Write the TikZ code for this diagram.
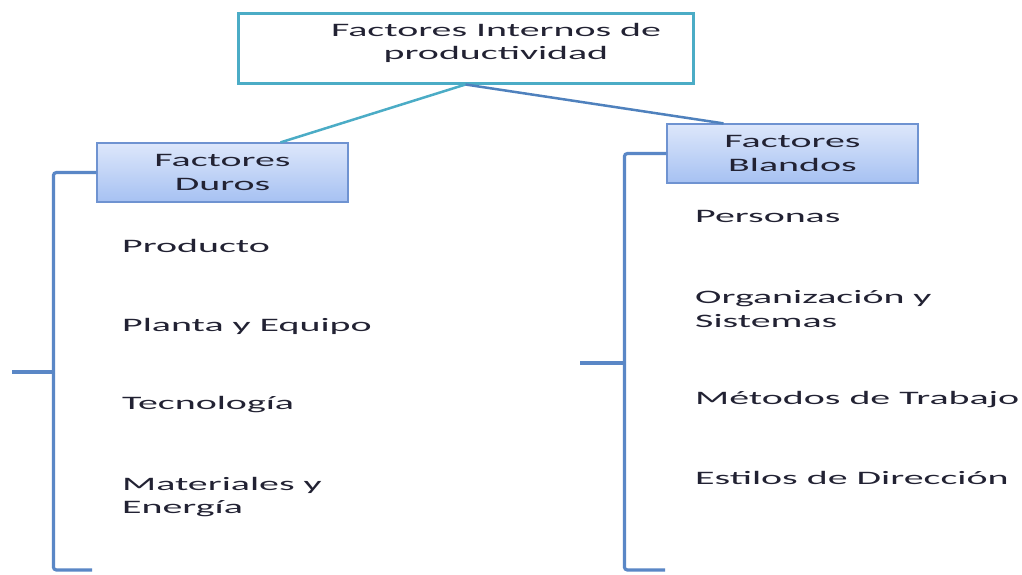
\documentclass[tikz,border=0pt]{standalone}
\usepackage{fontspec}
\newfontfamily\wfont[FakeStretch=2.1]{Carlito}
\definecolor{tealline}{HTML}{4BACC6}
\definecolor{blueline}{HTML}{4F81BD}
\definecolor{bracecol}{HTML}{5A87C6}
\definecolor{boxtop}{HTML}{DDE7FB}
\definecolor{boxbot}{HTML}{A6C1F2}
\definecolor{boxedge}{HTML}{6F93D1}
\definecolor{txt}{HTML}{222233}
\begin{document}
\begin{tikzpicture}[x=1pt,y=-1pt,
  every node/.style={font=\wfont\fontsize{19}{23.5}\selectfont, text=txt, inner sep=0pt},
  topbox/.style={draw=tealline, line width=3pt, fill=white},
  catbox/.style={draw=boxedge, line width=1.2pt, top color=boxtop, bottom color=boxbot},
  item/.style={anchor=west, align=left},
  brace/.style={draw=bracecol, line width=3.2pt, rounded corners=3pt},
  link/.style={line width=2.5pt}]
\useasboundingbox (0,0) rectangle (1022,574);
\fill[white] (0,0) rectangle (1022,574);

% title box
\node[topbox, minimum width=455pt, minimum height=70pt] (top) at (465.5,48) {};
\node[align=center] (toptext) at (496,43) {Factores Internos de\\productividad};

% category boxes
\node[catbox, minimum width=251pt, minimum height=59pt, align=center] (duros) at (222.5,172.5) {Factores\\Duros};
\node[catbox, minimum width=251pt, minimum height=59pt, align=center] (blandos) at (792.5,153.5) {Factores\\Blandos};

% connectors from the title box
\draw[link, tealline] (top.south) -- ([xshift=58pt]duros.north);
\draw[link, blueline] (top.south) -- ([xshift=-69pt]blandos.north);

% left bracket
\coordinate (lbot) at (92,570);
\coordinate (ltick) at (55,372);
\draw[brace] (duros.west) -- ++(-43,0) |- (lbot);
\draw[brace] (ltick) -- ++(-43,0);

% right bracket
\coordinate (rbot) at (665,570);
\coordinate (rtick) at (625,363);
\draw[brace] (blandos.west) -- ++(-42,0) |- (rbot);
\draw[brace] (rtick) -- ++(-45,0);

% hard factors
\node[item] (p1) at (122,246) {Producto};
\node[item] (p2) at (122,326) {Planta y Equipo};
\node[item] (p3) at (122,405) {Tecnología};
\node[item] (p4) at (122,497) {Materiales y\\Energía};

% soft factors
\node[item] (s1) at (695,216) {Personas};
\node[item] (s2) at (695,309) {Organización y\\Sistemas};
\node[item] (s3) at (695,400) {Métodos de Trabajo};
\node[item] (s4) at (695,478) {Estilos de Dirección};
\end{tikzpicture}
\end{document}
